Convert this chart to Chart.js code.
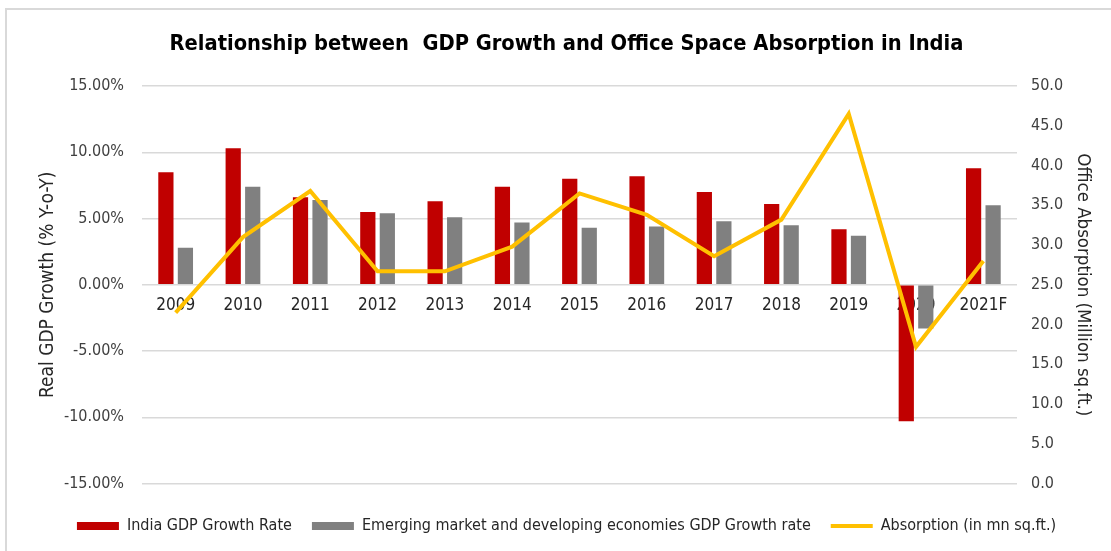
<!DOCTYPE html>
<html>
<head>
<meta charset="utf-8">
<script src="https://cdn.jsdelivr.net/npm/chart.js@4.4.1/dist/chart.umd.min.js"></script>
<style>
  html, body { margin: 0; padding: 0; background: #fff; }
  #wrap { position: relative; width: 1111px; height: 551px; }
  #frame { position: absolute; left: 5px; top: 8px; right: 0; bottom: 0;
           border-left: 2px solid #d9d9d9; border-top: 2px solid #d9d9d9; }
  #mycanvas { position: absolute; left: 0; top: 0; }
</style>
</head>
<body>
<div id="wrap">
  <div id="frame"></div>
  <canvas id="mycanvas" width="1111" height="551"></canvas>
</div>
<script>
var years = ["2009", "2010", "2011", "2012", "2013", "2014", "2015", "2016", "2017", "2018", "2019", "2020", "2021F"];
var indiaGdp = [8.5, 10.3, 6.6, 5.5, 6.3, 7.4, 8.0, 8.2, 7.0, 6.1, 4.2, -10.3, 8.8];
var emGdp = [2.8, 7.4, 6.4, 5.4, 5.1, 4.7, 4.3, 4.4, 4.8, 4.5, 3.7, -3.3, 6.0];
var absorption = [21.5, 31.0, 36.8, 26.7, 26.7, 29.8, 36.5, 33.8, 28.6, 33.2, 46.5, 17.2, 28.0];

var narrow = "'Liberation Sans Narrow', 'Arial Narrow', 'DejaVu Sans Condensed', sans-serif";
Chart.defaults.font.family = narrow;
Chart.defaults.color = "#262626";

var chartdata = {
    labels: years,
    datasets: [
        {
            label: "India GDP Growth Rate",
            data: indiaGdp,
            backgroundColor: "#c00000",
            borderWidth: 0,
            yAxisID: "y",
            order: 1,
            pointStyle: "rect",
            categoryPercentage: 0.58,
            barPercentage: 0.78
        },
        {
            label: "Emerging market and developing economies GDP Growth rate",
            data: emGdp,
            backgroundColor: "#808080",
            borderWidth: 0,
            yAxisID: "y",
            order: 1,
            pointStyle: "rect",
            categoryPercentage: 0.58,
            barPercentage: 0.78
        },
        {
            label: "Absorption (in mn sq.ft.)",
            type: "line",
            data: absorption,
            borderColor: "#ffc000",
            backgroundColor: "#ffc000",
            borderWidth: 4,
            pointRadius: 0,
            tension: 0,
            fill: false,
            yAxisID: "y1",
            order: 0,
            pointStyle: "line"
        }
    ]
};

var ctx = document.getElementById("mycanvas");
var chart = new Chart(ctx, {
    type: "bar",
    data: chartdata,
    options: {
        responsive: false,
        animation: false,
        // the frame in the picture starts a bit to the right, so title/legend centre further right
        layout: { padding: { left: 22, right: 0, top: 0, bottom: 7 } },
        plugins: {
            title: {
                display: true,
                text: "Relationship between  GDP Growth and Office Space Absorption in India",
                color: "#000",
                font: { size: 21.7, weight: "bold", family: narrow },
                padding: { top: 31, bottom: 29 }
            },
            legend: {
                position: "bottom",
                // empty legend title only used as a spacer above the items
                title: { display: true, text: " ", font: { size: 2 }, padding: { top: 6, bottom: 6 } },
                labels: {
                    usePointStyle: true,
                    pointStyleWidth: 42,
                    boxHeight: 8,
                    padding: 20,
                    color: "#262626",
                    font: { size: 16 },
                    sort: function(a, b) { return a.datasetIndex - b.datasetIndex; }
                }
            },
            tooltip: { enabled: false }
        },
        scales: {
            x: {
                position: { y: 0 },
                grid: { display: false },
                border: { display: false },
                ticks: { padding: 3, color: "#262626", font: { size: 17 } }
            },
            y: {
                position: "left",
                min: -15,
                max: 15,
                ticks: {
                    stepSize: 5,
                    padding: 18,
                    color: "#404040",
                    font: { size: 16 },
                    callback: function(v) { return v.toFixed(2) + "%"; }
                },
                grid: { color: "#d9d9d9", lineWidth: 1.5, drawTicks: false },
                border: { display: false },
                title: { display: true, text: "Real GDP Growth (% Y-o-Y)", color: "#262626",
                         font: { size: 19 }, padding: { top: 15, bottom: 0 } },
                afterFit: function(s) { s.width = 120; }
            },
            y1: {
                position: "right",
                min: 0,
                max: 50,
                ticks: {
                    stepSize: 5,
                    padding: 14,
                    color: "#404040",
                    font: { size: 16 },
                    callback: function(v) { return v.toFixed(1); }
                },
                grid: { display: false, drawTicks: false },
                border: { display: false },
                title: { display: true, text: "Office Absorption (Million sq.ft.)", color: "#262626",
                         font: { size: 18.5 }, padding: { top: 17, bottom: 0 } },
                afterFit: function(s) { s.width = 94; }
            }
        }
    }
});
</script>
</body>
</html>
